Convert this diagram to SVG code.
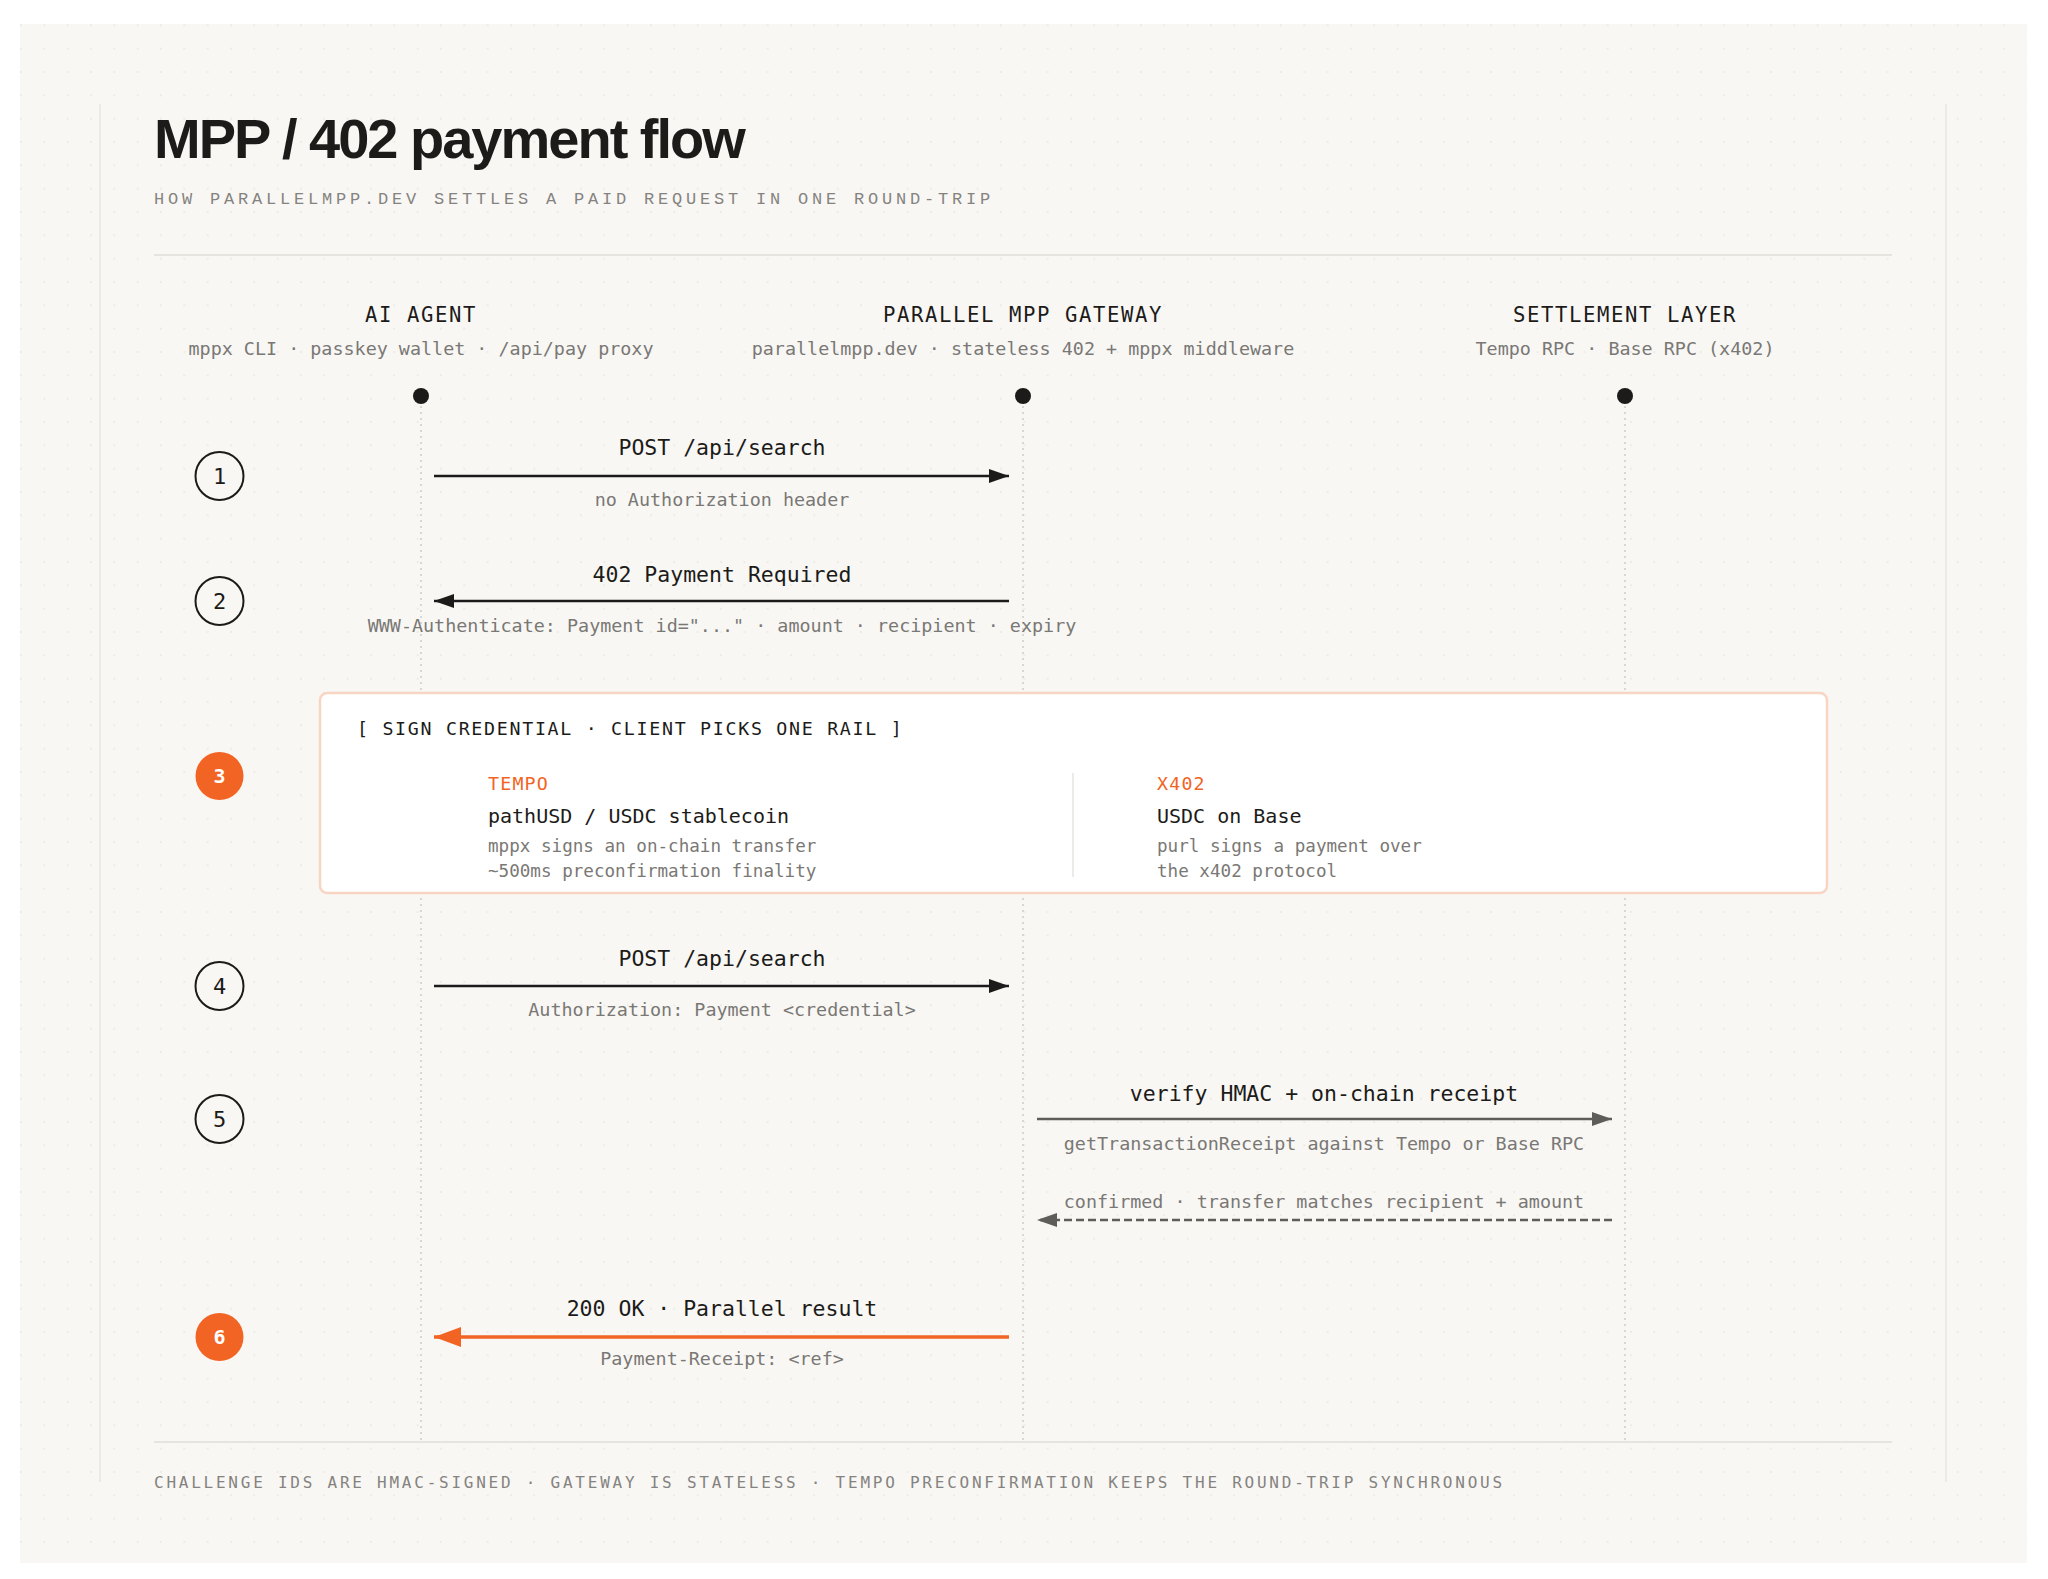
<svg xmlns="http://www.w3.org/2000/svg" width="2048" height="1579" viewBox="0 0 2048 1579">
  <style>
    .mono { font-family: "DejaVu Sans Mono", "Liberation Mono", monospace; }
    .title { font-family: "Liberation Sans", Arial, sans-serif; font-weight: 700; font-size: 56px; letter-spacing: -2px; fill: #1c1b19; }
    .subtitle { font-family: "Liberation Mono", "DejaVu Sans Mono", monospace; font-size: 17px; letter-spacing: 3.8px; fill: #85837f; }
    .actor { font-size: 20.6px; letter-spacing: 1.6px; fill: #1c1b19; }
    .actorsub { font-size: 18.4px; fill: #7a7874; }
    .msg { font-size: 21.5px; fill: #1c1b19; }
    .msgsub { font-size: 18.4px; fill: #7a7874; }
    .boxtitle { font-size: 18.3px; letter-spacing: 1.7px; fill: #1c1b19; }
    .rail { font-size: 18.3px; letter-spacing: 1.2px; fill: #f26424; }
    .railhead { font-size: 20px; fill: #1c1b19; }
    .raildesc { font-size: 17.6px; fill: #7a7874; }
    .footer { font-size: 16px; letter-spacing: 2.76px; fill: #85837f; }
    .stepnum { font-size: 22px; fill: #1c1b19; text-anchor: middle; }
    .stepnum-w { font-size: 20px; fill: #ffffff; text-anchor: middle; font-weight: 700; }
    .step { fill: #f8f7f4; stroke: #1c1b19; stroke-width: 2; }
    .step-o { fill: #f26424; stroke: none; }
    .lifeline { stroke: #cfcdc8; stroke-width: 1.5; stroke-dasharray: 2 4; }
    .rule { stroke: #e6e4df; stroke-width: 2; }
    .frame { stroke: #e8e6e1; stroke-width: 1.5; }
    .arrow { fill: none; stroke: #1c1b19; stroke-width: 2.5; }
    .arrow-g { fill: none; stroke: #5e5d5a; stroke-width: 2.5; }
    .arrow-gd { fill: none; stroke: #5e5d5a; stroke-width: 2.5; stroke-dasharray: 8 4; }
    .arrow-o { fill: none; stroke: #f26424; stroke-width: 3.5; }
  </style>
  <defs>
    <pattern id="dots" x="9.33" y="-9.67" width="23.333" height="23.333" patternUnits="userSpaceOnUse">
      <circle cx="11.67" cy="11.67" r="1" fill="#e9e7e2"/>
    </pattern>
    <marker id="headK" viewBox="0 0 20 14" refX="20" refY="7" markerWidth="20" markerHeight="14" markerUnits="userSpaceOnUse" orient="auto">
      <path d="M0,0 L20,7 L0,14 Z" fill="#1c1b19"/>
    </marker>
    <marker id="headG" viewBox="0 0 20 14" refX="20" refY="7" markerWidth="20" markerHeight="14" markerUnits="userSpaceOnUse" orient="auto">
      <path d="M0,0 L20,7 L0,14 Z" fill="#5e5d5a"/>
    </marker>
    <marker id="headO" viewBox="0 0 27 20" refX="27" refY="10" markerWidth="27" markerHeight="20" markerUnits="userSpaceOnUse" orient="auto">
      <path d="M0,0 L27,10 L0,20 Z" fill="#f26424"/>
    </marker>
  </defs>

  <rect x="0" y="0" width="2048" height="1579" fill="#ffffff"/>
  <rect x="20" y="24" width="2007" height="1539" fill="#f8f7f4"/>
  <rect x="20" y="24" width="2007" height="1539" fill="url(#dots)"/>

  <line class="frame" x1="100" y1="104" x2="100" y2="1482"/>
  <line class="frame" x1="1946" y1="104" x2="1946" y2="1482"/>

  <text class="title" x="154" y="158">MPP / 402 payment flow</text>
  <text class="subtitle" x="154" y="204">HOW PARALLELMPP.DEV SETTLES A PAID REQUEST IN ONE ROUND-TRIP</text>
  <line class="rule" x1="154" y1="255" x2="1892" y2="255"/>

  <g id="lifelines">
    <line class="lifeline" x1="421" y1="406" x2="421" y2="1442"/>
    <line class="lifeline" x1="1023" y1="406" x2="1023" y2="1442"/>
    <line class="lifeline" x1="1625" y1="406" x2="1625" y2="1442"/>
  </g>

  <g id="actor-agent" class="mono">
    <text class="actor" x="421" y="322" text-anchor="middle">AI AGENT</text>
    <text class="actorsub" x="421" y="355" text-anchor="middle">mppx CLI · passkey wallet · /api/pay proxy</text>
    <circle cx="421" cy="396" r="8" fill="#1c1b19"/>
  </g>
  <g id="actor-gateway" class="mono">
    <text class="actor" x="1023" y="322" text-anchor="middle">PARALLEL MPP GATEWAY</text>
    <text class="actorsub" x="1023" y="355" text-anchor="middle">parallelmpp.dev · stateless 402 + mppx middleware</text>
    <circle cx="1023" cy="396" r="8" fill="#1c1b19"/>
  </g>
  <g id="actor-settlement" class="mono">
    <text class="actor" x="1625" y="322" text-anchor="middle">SETTLEMENT LAYER</text>
    <text class="actorsub" x="1625" y="355" text-anchor="middle">Tempo RPC · Base RPC (x402)</text>
    <circle cx="1625" cy="396" r="8" fill="#1c1b19"/>
  </g>

  <g id="sign-box" class="mono">
    <rect x="320" y="693" width="1507" height="200" rx="7" fill="#ffffff" stroke="#f8d5c2" stroke-width="2.5"/>
    <text class="boxtitle" x="357" y="735">[ SIGN CREDENTIAL · CLIENT PICKS ONE RAIL ]</text>
    <text class="rail" x="488" y="790">TEMPO</text>
    <text class="railhead" x="488" y="823">pathUSD / USDC stablecoin</text>
    <text class="raildesc" x="488" y="852">mppx signs an on-chain transfer</text>
    <text class="raildesc" x="488" y="877">~500ms preconfirmation finality</text>
    <line x1="1073" y1="773" x2="1073" y2="877" stroke="#e6e4df" stroke-width="1.5"/>
    <text class="rail" x="1157" y="790">X402</text>
    <text class="railhead" x="1157" y="823">USDC on Base</text>
    <text class="raildesc" x="1157" y="852">purl signs a payment over</text>
    <text class="raildesc" x="1157" y="877">the x402 protocol</text>
  </g>

  <g id="step-1" class="mono">
    <circle class="step" cx="219.5" cy="476" r="24"/>
    <text class="stepnum" x="219.5" y="484">1</text>
  </g>
  <g id="step-2" class="mono">
    <circle class="step" cx="219.5" cy="601" r="24"/>
    <text class="stepnum" x="219.5" y="609">2</text>
  </g>
  <g id="step-3" class="mono">
    <circle class="step-o" cx="219.5" cy="776" r="24"/>
    <text class="stepnum-w" x="219.5" y="783">3</text>
  </g>
  <g id="step-4" class="mono">
    <circle class="step" cx="219.5" cy="986" r="24"/>
    <text class="stepnum" x="219.5" y="994">4</text>
  </g>
  <g id="step-5" class="mono">
    <circle class="step" cx="219.5" cy="1119" r="24"/>
    <text class="stepnum" x="219.5" y="1127">5</text>
  </g>
  <g id="step-6" class="mono">
    <circle class="step-o" cx="219.5" cy="1337" r="24"/>
    <text class="stepnum-w" x="219.5" y="1344">6</text>
  </g>

  <g id="connectors" class="mono">
    <line class="arrow" x1="434" y1="476" x2="1009" y2="476" marker-end="url(#headK)"/>
    <text class="msg" x="722" y="455" text-anchor="middle">POST /api/search</text>
    <text class="msgsub" x="722" y="506" text-anchor="middle">no Authorization header</text>

    <line class="arrow" x1="1009" y1="601" x2="434" y2="601" marker-end="url(#headK)"/>
    <text class="msg" x="722" y="582" text-anchor="middle">402 Payment Required</text>
    <text class="msgsub" x="722" y="632" text-anchor="middle">WWW-Authenticate: Payment id="..." · amount · recipient · expiry</text>

    <line class="arrow" x1="434" y1="986" x2="1009" y2="986" marker-end="url(#headK)"/>
    <text class="msg" x="722" y="966" text-anchor="middle">POST /api/search</text>
    <text class="msgsub" x="722" y="1016" text-anchor="middle">Authorization: Payment &lt;credential&gt;</text>

    <line class="arrow-g" x1="1037" y1="1119" x2="1612" y2="1119" marker-end="url(#headG)"/>
    <text class="msg" x="1324" y="1101" text-anchor="middle">verify HMAC + on-chain receipt</text>
    <text class="msgsub" x="1324" y="1150" text-anchor="middle">getTransactionReceipt against Tempo or Base RPC</text>

    <line class="arrow-gd" x1="1612" y1="1220" x2="1037" y2="1220" marker-end="url(#headG)"/>
    <text class="msgsub" x="1324" y="1208" text-anchor="middle">confirmed · transfer matches recipient + amount</text>

    <line class="arrow-o" x1="1009" y1="1337" x2="434" y2="1337" marker-end="url(#headO)"/>
    <text class="msg" x="722" y="1316" text-anchor="middle">200 OK · Parallel result</text>
    <text class="msgsub" x="722" y="1365" text-anchor="middle">Payment-Receipt: &lt;ref&gt;</text>
  </g>

  <line class="rule" x1="154" y1="1442" x2="1892" y2="1442"/>
  <text class="mono footer" x="154" y="1488">CHALLENGE IDS ARE HMAC-SIGNED · GATEWAY IS STATELESS · TEMPO PRECONFIRMATION KEEPS THE ROUND-TRIP SYNCHRONOUS</text>
</svg>
